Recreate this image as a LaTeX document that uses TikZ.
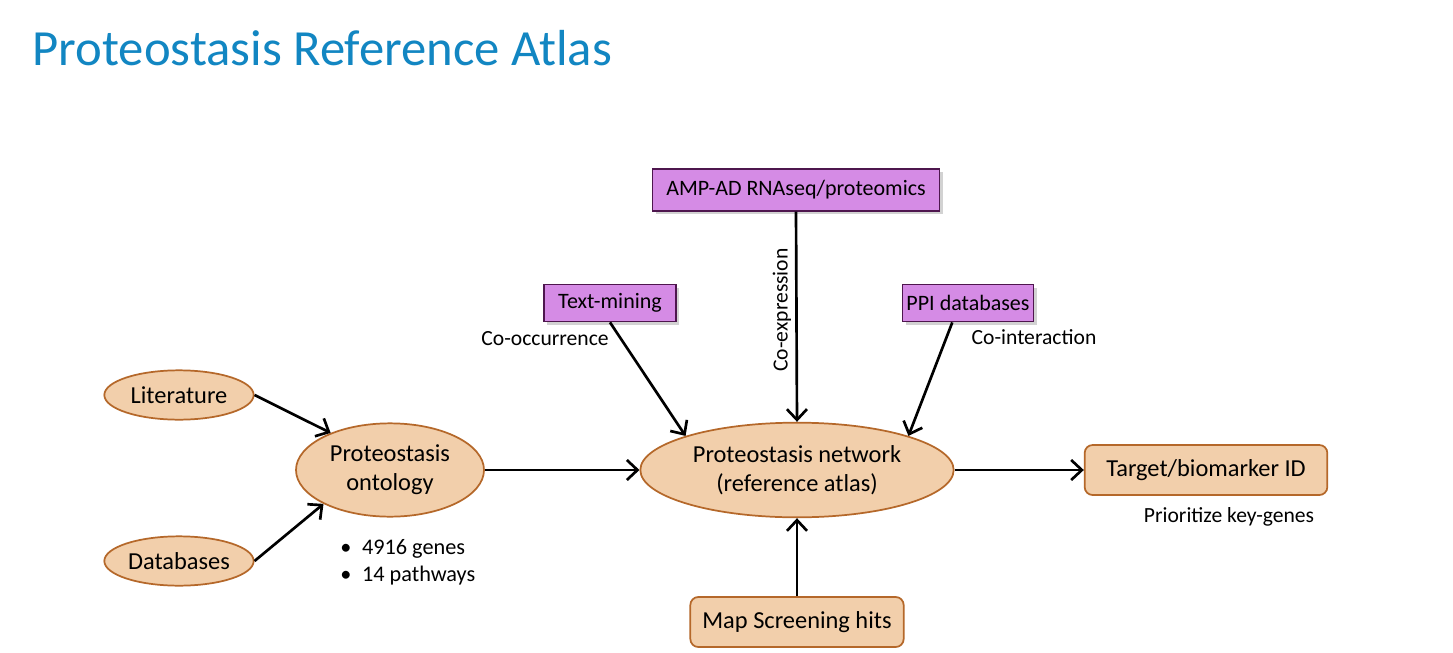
\documentclass[tikz,border=0pt]{standalone}
\usepackage{fontspec}
\setmainfont{Carlito}
\usetikzlibrary{arrows.meta,shapes.geometric,shadows}

\definecolor{peach}{RGB}{242,207,171}
\definecolor{rust}{RGB}{181,104,42}
\definecolor{lilac}{RGB}{213,139,229}
\definecolor{plum}{RGB}{78,22,78}
\definecolor{titleblue}{RGB}{18,134,194}

\tikzset{
  >={Straight Barb[length=8pt,width=15pt,line width=2pt]},
  oval/.style={ellipse,draw=rust,fill=peach,line width=1.3pt,inner sep=0pt,
    align=center,font=\fontsize{18.3}{22}\selectfont},
  roundbox/.style={rectangle,rounded corners=6pt,draw=rust,fill=peach,
    line width=1.3pt,inner sep=0pt,font=\fontsize{18.3}{22}\selectfont},
  databox/.style={rectangle,draw=plum,fill=lilac,line width=1.1pt,inner sep=0pt,
    font=\fontsize{16.5}{19}\selectfont,
    drop shadow={opacity=0.35,shadow xshift=2.5pt,shadow yshift=-2.5pt}},
  note/.style={font=\fontsize{16.2}{19}\selectfont,inner sep=0pt},
  link/.style={->,line width=2pt}
}

\begin{document}
\begin{tikzpicture}[x=0.75pt,y=-0.75pt]
    \useasboundingbox[fill=white] (0,0) rectangle (1453,653);
    % title
    \node[font=\fontsize{38}{44}\selectfont,text=titleblue,anchor=west]
        (title) at (28,48) {Proteostasis Reference Atlas};
    % sources
    \node[oval,minimum width=112pt,minimum height=37pt] (lit) at (179,395) {Literature};
    \node[oval,minimum width=112pt,minimum height=37pt] (dbs) at (179,561) {Databases};
    \node[oval,minimum width=141pt,minimum height=70pt] (onto) at (390,470) {Proteostasis\\ontology};
    \node[oval,minimum width=235pt,minimum height=71pt] (net) at (797,470) {Proteostasis network\\(reference atlas)};
    \node[roundbox,minimum width=182pt,minimum height=37.5pt] (target) at (1206,470) {Target/biomarker ID};
    \node[roundbox,minimum width=160pt,minimum height=37.5pt] (map) at (797,622) {Map Screening hits};
    % data boxes
    \node[databox,minimum width=215pt,minimum height=31.5pt] (amp) at (796,190) {AMP-AD RNAseq/proteomics};
    \node[databox,minimum width=99pt,minimum height=28pt] (text) at (610,303) {Text-mining};
    \node[databox,minimum width=98pt,minimum height=28pt] (ppi) at (968,303) {PPI databases};
    % arrows
    \draw[link] (lit.east) -- (onto.148);
    \draw[link] (dbs.east) -- (onto.207);
    \draw[link] (onto.east) -- (net.west);
    \draw[link] (net.east) -- (target.west);
    \draw[link] (map.north) -- (net.south);
    \draw[link] (amp.south) -- (net.north);
    \draw[link] (text.south) -- (net.163);
    \draw[link] (ppi.-129) -- (net.17);
    % labels
    \node[note] (cooc) at (545,339) {Co-occurrence};
    \node[note,rotate=90] (coexp) at (782,310) {Co-expression};
    \node[note] (coint) at (1034,337) {Co-interaction};
    \node[note,align=left,anchor=north west,font=\fontsize{16.7}{20.5}\selectfont]
        (stats) at (340,539) {\textbullet\hspace{8pt}4916 genes\\\textbullet\hspace{8pt}14 pathways};
    \node[note] (prio) at (1229,517) {Prioritize key-genes};
\end{tikzpicture}
\end{document}
